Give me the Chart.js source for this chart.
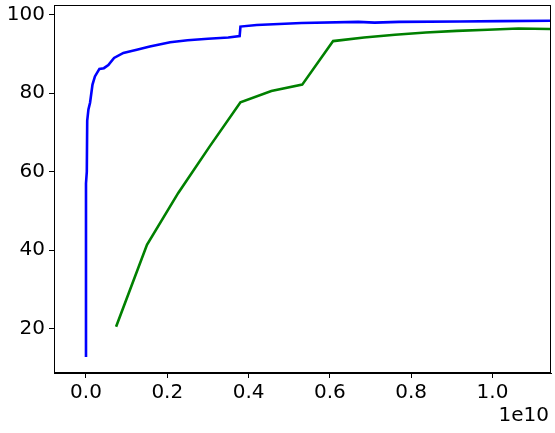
<!DOCTYPE html>
<html>
<head>
<meta charset="utf-8">
<script src="https://cdn.jsdelivr.net/npm/chart.js@4"></script>
<style>
	body { margin: 0; background: #fff; }
	#wrap { width: 555px; height: 433px; }
</style>
</head>
<body>
<div id="wrap"><canvas id="myChart" width="555" height="433"></canvas></div>
<script>
// blue curve, x in units of 1e9
const blueX = [0, 0, 0.02, 0.03, 0.06, 0.1, 0.16, 0.22, 0.33, 0.44, 0.55, 0.69, 0.92, 1.25, 1.57, 2.07, 2.5, 3.0, 3.5, 3.78, 3.8, 4.2, 5.3, 6.7, 7.1, 7.7, 9.2, 10.2, 11.6];
const blueY = [12.8, 57, 60, 73, 75.9, 77.6, 82.2, 84.3, 86.2, 86.4, 87.2, 89.0, 90.3, 91.1, 91.9, 93.0, 93.5, 93.9, 94.2, 94.6, 97.0, 97.4, 97.9, 98.2, 98.0, 98.2, 98.3, 98.4, 98.5];

// green curve
const greenX = [0.74, 1.5, 2.27, 3.04, 3.8, 4.56, 5.32, 6.08, 6.84, 7.6, 8.36, 9.12, 9.88, 10.64, 11.4, 12.0];
const greenY = [20.5, 41.4, 54.6, 66.4, 77.7, 80.6, 82.2, 93.3, 94.2, 94.9, 95.5, 95.9, 96.2, 96.5, 96.4, 96.3];

const xTicks = [0, 2e9, 4e9, 6e9, 8e9, 10e9];
const xTickLabels = ['0.0', '0.2', '0.4', '0.6', '0.8', '1.0'];
const yTicks = [20, 40, 60, 80, 100];
const xOffsetLabel = '1e10';

function toPoints(xs, ys) {
	return xs.map((x, i) => ({ x: x * 1e9, y: ys[i] }));
}

const FONT = { family: 'DejaVu Sans', size: 20 };

// top and right spines plus the offset text
const framePlugin = {
	id: 'frame',
	afterDraw(chart) {
		const { ctx, chartArea: a } = chart;
		ctx.save();
		ctx.strokeStyle = '#000';
		ctx.lineWidth = 1;
		ctx.strokeRect(a.left + 0.5, a.top + 0.5, a.right - a.left - 1, a.bottom - a.top - 1);
		ctx.fillStyle = '#000';
		ctx.font = '20px "DejaVu Sans"';
		ctx.textAlign = 'right';
		ctx.textBaseline = 'alphabetic';
		ctx.fillText(xOffsetLabel, a.right - 2, 421);
		ctx.restore();
	}
};

const ctx = document.getElementById('myChart');
new Chart(ctx, {
	type: 'scatter',
	data: {
		datasets: [{
			data: toPoints(blueX, blueY),
			borderColor: '#0000ff',
			backgroundColor: '#0000ff',
			borderWidth: 2.6,
			showLine: true,
			pointRadius: 0,
			tension: 0
		}, {
			data: toPoints(greenX, greenY),
			borderColor: '#008000',
			backgroundColor: '#008000',
			borderWidth: 2.6,
			showLine: true,
			pointRadius: 0,
			tension: 0
		}]
	},
	options: {
		responsive: false,
		animation: false,
		layout: { padding: { top: 5, right: 4, left: 0, bottom: 0 } },
		plugins: { legend: { display: false }, tooltip: { enabled: false } },
		scales: {
			x: {
				type: 'linear',
				min: -0.787e9,
				max: 11.44e9,
				afterBuildTicks: s => { s.ticks = xTicks.map(v => ({ value: v })); },
				afterFit: s => { s.height = 60; s.paddingLeft = 0; s.paddingRight = 0; },
				grid: { drawOnChartArea: false, drawTicks: true, tickLength: 5, color: '#000' },
				border: { display: true, color: '#000', width: 1 },
				ticks: {
					color: '#000',
					font: FONT,
					padding: 3,
					maxRotation: 0,
					autoSkip: false,
					callback: (v) => xTickLabels[xTicks.indexOf(v)]
				}
			},
			y: {
				min: 8.7,
				max: 102.5,
				afterBuildTicks: s => { s.ticks = yTicks.map(v => ({ value: v })); },
				afterFit: s => { s.width = 54; s.paddingTop = 0; s.paddingBottom = 0; },
				grid: { drawOnChartArea: false, drawTicks: true, tickLength: 5, color: '#000' },
				border: { display: true, color: '#000', width: 1 },
				ticks: {
					color: '#000',
					font: FONT,
					padding: 4,
					autoSkip: false,
					callback: v => String(v)
				}
			}
		}
	},
	plugins: [framePlugin]
});
</script>
</body>
</html>
